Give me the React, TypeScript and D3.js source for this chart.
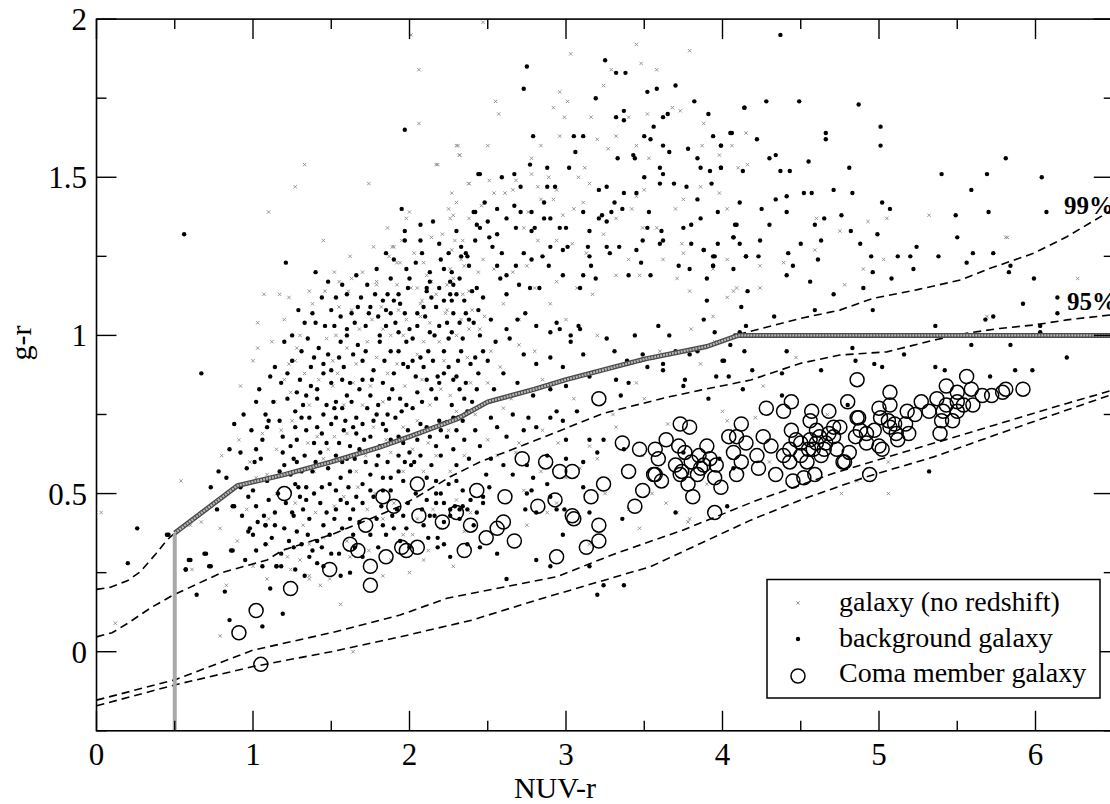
import React from "react";
import * as d3 from "d3";

// ---------- data ----------
const xTicksMajor = [0, 1, 2, 3, 4, 5, 6];
const xTicksMinor = [0.5, 1.5, 2.5, 3.5, 4.5, 5.5, 6.5];
const yTicksMajor = [0, 0.5, 1, 1.5, 2];
const yTicksMinor = [-0.25, 0.25, 0.75, 1.25, 1.75];
const yTickLabels = ["0", "0.5", "1", "1.5", "2"];

const legendLabels = ["galaxy (no redshift)", "background galaxy", "Coma member galaxy"];
const curveLabels = ["99%", "95%"];

// thick grey selection boundary
const selectionLine: [number, number][] = [
  [0.5, -0.25], [0.5, 0.375], [0.9, 0.525], [1.2, 0.56], [1.5, 0.6], [1.8, 0.645], [2.0, 0.68], [2.3, 0.735],
  [2.5, 0.79], [2.8, 0.83], [3.0, 0.86], [3.5, 0.925], [3.9, 0.965], [4.1, 1.0], [6.5, 1.0],
];

const cut99: [number, number][] = [
  [0, 0.197], [0.09, 0.204], [0.2, 0.225], [0.28, 0.253], [0.38, 0.31], [0.45, 0.353], [0.5, 0.375],
  [0.9, 0.52], [1.5, 0.6], [2.0, 0.68], [2.5, 0.785], [3.0, 0.86], [3.5, 0.92], [3.9, 0.965],
  [4.13, 1.007], [4.5, 1.054], [4.75, 1.08], [4.96, 1.117], [5.24, 1.144], [5.52, 1.175], [5.71, 1.212],
  [5.99, 1.26], [6.2, 1.312], [6.5, 1.4],
];

const cut95: [number, number][] = [
  [0, 0.047], [0.1, 0.06], [0.2, 0.09], [0.35, 0.14], [0.49, 0.179], [0.8, 0.25], [1.09, 0.29],
  [1.19, 0.321], [1.5, 0.37], [1.7, 0.41], [1.94, 0.46], [2.05, 0.49], [2.26, 0.553], [2.45, 0.6],
  [2.81, 0.669], [3.24, 0.754], [3.66, 0.806], [3.86, 0.827], [4.18, 0.859], [4.5, 0.912], [4.75, 0.938],
  [5.05, 0.948], [5.18, 0.964], [5.35, 0.985], [5.56, 1.007], [5.77, 1.022], [5.99, 1.033], [6.2, 1.049],
  [6.5, 1.066],
];

const lowerA: [number, number][] = [
  [0, -0.153], [0.5, -0.089], [1.0, 0.005], [1.5, 0.06], [1.94, 0.116], [2.24, 0.169], [2.94, 0.237],
  [3.32, 0.311], [3.75, 0.385], [4.2, 0.475], [4.71, 0.564], [5.13, 0.627], [5.56, 0.69], [5.99, 0.754],
  [6.2, 0.785], [6.5, 0.828],
];

const lowerB: [number, number][] = [
  [0, -0.171], [0.5, -0.105], [1.0, -0.047], [1.5, 0.0], [1.94, 0.047], [2.4, 0.1], [2.81, 0.163],
  [3.54, 0.269], [4.18, 0.416], [4.5, 0.48], [4.92, 0.553], [5.35, 0.616], [5.77, 0.69], [6.2, 0.764],
  [6.5, 0.815],
];

const comaMembers: [number, number][] = [
  [0.91, 0.06], [1.02, 0.13], [1.05, -0.04], [1.24, 0.2], [1.2, 0.5], [1.49, 0.26], [1.62, 0.34], [1.67, 0.32],
  [1.72, 0.4], [1.75, 0.27], [1.75, 0.21], [1.85, 0.3], [1.83, 0.49], [1.9, 0.46], [1.95, 0.33], [1.98, 0.32],
  [2.05, 0.33], [2.05, 0.53], [2.06, 0.43], [2.21, 0.41], [2.3, 0.44], [2.39, 0.4], [2.35, 0.32], [2.43, 0.51],
  [2.49, 0.36], [2.56, 0.39], [2.6, 0.41], [2.61, 0.49], [2.67, 0.35], [2.72, 0.61], [2.82, 0.46], [2.87, 0.6],
  [2.93, 0.48], [2.94, 0.3], [2.96, 0.57], [3.04, 0.57], [3.04, 0.43], [3.05, 0.42], [3.13, 0.33], [3.16, 0.49],
  [3.21, 0.8], [3.21, 0.4], [3.21, 0.35], [3.24, 0.53], [3.36, 0.66], [3.4, 0.57], [3.44, 0.46], [3.47, 0.64],
  [3.49, 0.51], [3.56, 0.56], [3.57, 0.64], [3.59, 0.61], [3.57, 0.56], [3.61, 0.54], [3.64, 0.67], [3.73, 0.72],
  [3.79, 0.71], [3.72, 0.65], [3.76, 0.63], [3.7, 0.59], [3.73, 0.56], [3.74, 0.57], [3.78, 0.53], [3.84, 0.56],
  [3.81, 0.49], [3.9, 0.65], [3.92, 0.61], [3.88, 0.59], [3.96, 0.59], [3.95, 0.55], [3.99, 0.52], [3.95, 0.44],
  [4.04, 0.68], [4.12, 0.72], [4.09, 0.68], [4.07, 0.63], [4.12, 0.6], [4.09, 0.56], [4.15, 0.66], [4.22, 0.62],
  [4.26, 0.68], [4.28, 0.77], [4.39, 0.76], [4.44, 0.79], [4.23, 0.58], [4.34, 0.56], [4.31, 0.65], [4.39, 0.62],
  [4.44, 0.7], [4.43, 0.6], [4.45, 0.54], [4.86, 0.86], [4.57, 0.76], [4.56, 0.73], [4.68, 0.76], [4.8, 0.79],
  [5.07, 0.82], [4.87, 0.74], [5.0, 0.77], [5.07, 0.78], [5.18, 0.76], [5.27, 0.79], [5.37, 0.8], [5.43, 0.84],
  [5.5, 0.82], [5.56, 0.87], [5.59, 0.83], [5.66, 0.81], [5.72, 0.81], [5.81, 0.83], [5.92, 0.83], [4.47, 0.67],
  [4.43, 0.64], [4.5, 0.62], [4.54, 0.6], [4.56, 0.67], [4.6, 0.66], [4.65, 0.64], [4.6, 0.7], [4.71, 0.71],
  [4.71, 0.68], [4.73, 0.64], [4.78, 0.6], [4.81, 0.63], [4.75, 0.71], [4.86, 0.74], [4.88, 0.7], [4.85, 0.68],
  [4.92, 0.69], [4.92, 0.66], [5.0, 0.65], [5.02, 0.64], [4.97, 0.7], [5.01, 0.74], [5.06, 0.73], [5.07, 0.71],
  [5.11, 0.69], [5.12, 0.67], [5.19, 0.69], [5.17, 0.72], [5.1, 0.72], [5.23, 0.75], [5.32, 0.76], [5.4, 0.73],
  [5.39, 0.69], [5.41, 0.76], [5.47, 0.73], [5.5, 0.76], [5.54, 0.78], [5.6, 0.78], [5.5, 0.79], [5.43, 0.78],
  [4.94, 0.56], [4.77, 0.6], [4.59, 0.56], [4.52, 0.55], [5.79, 0.82], [4.62, 0.68], [4.66, 0.66], [4.55, 0.64],
  [4.63, 0.62], [3.8, 0.6], [3.85, 0.62], [3.86, 0.58], [4.68, 0.69], [4.5, 0.66], [4.58, 0.64],
];

const backgroundGalaxies: [number, number][] = [
  [1.21, 1.23], [1.44, 1.12], [1.2, 0.98], [1.95, 1.4], [2.07, 1.35], [1.97, 1.33], [1.97, 1.3], [2.07, 1.3],
  [2.19, 1.29], [2.44, 1.51], [2.41, 1.39], [2.43, 1.35], [2.33, 1.28], [2.36, 1.26], [2.33, 1.25], [2.38, 1.22],
  [2.2, 1.24], [2.04, 1.23], [1.98, 1.21], [1.88, 1.18], [2.22, 1.21], [2.27, 1.2], [2.13, 1.2], [2.32, 1.18],
  [2.28, 1.16], [2.19, 1.15], [2.13, 1.17], [2.11, 1.14], [1.99, 1.15], [1.86, 1.13], [1.93, 1.13], [1.83, 1.11],
  [1.9, 1.11], [1.94, 1.1], [1.85, 1.08], [1.75, 1.09], [1.67, 1.09], [1.63, 1.07], [1.74, 1.07], [1.88, 1.07],
  [1.97, 1.07], [2.05, 1.07], [2.09, 1.09], [2.17, 1.09], [2.22, 1.11], [2.27, 1.11], [2.3, 1.13], [2.35, 1.11],
  [2.4, 1.14], [2.28, 1.07], [2.36, 1.07], [2.41, 1.04], [2.32, 1.04], [2.24, 1.04], [2.19, 1.03], [2.16, 1.0],
  [2.13, 1.01], [2.05, 1.03], [2.02, 0.99], [1.98, 0.98], [1.93, 1.01], [1.85, 1.03], [1.81, 1.0], [1.72, 1.03],
  [1.65, 1.04], [1.6, 1.02], [1.6, 1.0], [1.52, 1.03], [1.46, 1.03], [1.4, 1.04], [1.39, 0.93], [1.45, 0.91],
  [1.56, 0.98], [1.64, 0.94], [1.7, 0.92], [1.81, 0.98], [1.88, 0.95], [1.93, 0.95], [1.96, 0.91], [2.02, 0.92],
  [2.07, 0.93], [2.12, 0.95], [2.15, 0.92], [2.22, 0.95], [2.25, 0.99], [2.27, 1.01], [2.34, 0.99], [2.33, 0.95],
  [2.39, 0.91], [2.42, 0.93], [2.31, 0.92],
  [0.67, 0.88], [1.02, 0.79], [1.08, 0.75], [1.1, 0.73], [0.85, 0.64], [0.92, 0.63], [1.01, 0.6], [0.78, 0.57],
  [0.73, 0.52], [0.46, 0.37], [0.87, 0.46], [0.93, 0.43], [0.98, 0.39], [1.0, 0.37], [1.08, 0.4], [0.69, 0.31],
  [0.86, 0.32], [0.57, 0.26], [0.72, 0.27], [0.6, 0.29], [1.06, 0.27], [1.15, 0.27], [1.18, 0.27], [1.14, 0.4],
  [1.14, 0.44], [1.25, 0.44], [1.32, 0.45], [1.36, 0.42], [1.26, 0.33], [1.31, 0.34], [1.38, 0.32], [1.44, 0.33],
  [1.36, 0.3], [1.41, 0.28], [1.55, 0.31], [1.62, 0.25], [1.27, 0.53], [1.34, 0.52], [1.44, 0.52], [1.49, 0.53],
  [1.53, 0.51], [1.61, 0.52], [1.6, 0.47], [1.53, 0.45], [1.47, 0.44], [1.52, 0.42], [1.45, 0.4], [1.49, 0.37],
  [1.64, 0.37], [1.75, 0.56], [1.79, 0.59], [1.83, 0.55], [1.7, 0.53], [1.75, 0.51], [1.66, 0.49], [1.62, 0.57],
  [1.56, 0.55], [1.31, 0.57], [1.28, 0.6], [1.17, 0.57], [1.09, 0.54], [0.97, 0.49], [1.02, 0.46], [1.92, 0.45],
  [1.79, 0.42], [1.85, 0.37], [1.98, 0.39], [1.94, 0.35], [2.09, 0.4], [2.16, 0.43], [2.18, 0.36], [2.22, 0.34],
  [2.11, 0.48], [2.17, 0.5], [2.22, 0.47], [2.26, 0.45], [2.37, 0.45], [2.34, 0.51], [2.25, 0.53], [2.17, 0.54],
  [2.11, 0.55], [1.97, 0.6], [1.96, 0.54], [1.88, 0.51],
  [1.11, 0.87], [1.22, 0.88], [1.28, 0.82], [1.34, 0.81], [1.41, 0.83], [1.45, 0.88], [1.5, 0.85], [1.47, 0.78],
  [1.53, 0.79], [1.6, 0.81], [1.62, 0.85], [1.7, 0.86], [1.75, 0.81], [1.83, 0.85], [1.94, 0.8], [1.98, 0.78],
  [2.05, 0.82], [2.11, 0.86], [2.17, 0.8], [2.22, 0.88], [2.32, 0.83], [2.4, 0.79], [2.34, 0.73], [2.3, 0.7],
  [2.24, 0.68], [2.17, 0.65], [2.19, 0.73], [2.11, 0.71], [2.05, 0.67], [2.0, 0.63], [1.93, 0.62], [1.88, 0.67],
  [1.81, 0.65], [1.75, 0.68], [1.62, 0.65], [1.64, 0.71], [1.58, 0.7], [1.7, 0.72], [1.86, 0.75], [1.73, 0.77],
  [1.66, 0.74], [1.45, 0.75], [1.34, 0.7], [1.28, 0.67], [1.24, 0.65], [1.19, 0.63], [1.47, 0.66], [1.43, 0.63],
  [1.53, 0.62], [1.6, 0.61], [1.27, 0.76], [1.32, 0.78], [1.22, 0.8], [1.17, 0.73], [1.19, 0.68], [1.09, 0.71],
  [1.06, 0.67], [1.57, 0.86], [1.89, 0.83], [2.28, 0.86], [1.96, 0.66], [1.68, 0.64], [1.83, 0.72], [1.79, 0.75],
  [1.53, 0.74], [1.41, 0.71], [1.31, 0.74], [1.02, 0.64], [1.26, 0.61], [1.29, 0.52], [1.34, 0.48], [1.26, 0.43],
  [1.45, 0.27], [1.7, 0.3], [1.56, 0.24], [1.08, 0.34], [1.0, 0.51], [1.24, 0.56], [1.38, 0.57], [1.88, 0.55],
  [1.62, 0.42], [1.96, 0.43], [1.83, 0.4], [2.26, 0.3], [2.29, 0.46], [2.39, 0.48], [2.3, 0.54], [2.01, 0.59],
  [1.83, 0.51],
  [1.31, 0.95], [1.35, 0.99], [1.42, 0.96], [1.48, 0.94], [1.37, 0.9], [1.5, 0.89], [1.55, 0.93], [1.58, 0.9],
  [1.67, 0.97], [1.72, 0.95], [1.77, 0.89], [1.84, 0.92], [1.9, 0.88], [1.99, 0.9], [2.04, 0.87], [2.09, 0.9],
  [2.18, 0.87], [2.25, 0.9], [2.3, 0.87], [2.36, 0.85], [2.44, 0.88], [2.47, 0.95], [2.45, 1.0], [2.38, 1.05],
  [2.44, 1.08], [2.47, 1.12], [2.52, 1.05], [2.55, 0.98], [2.5, 0.92], [1.25, 1.0], [1.33, 1.04], [1.29, 1.08],
  [1.38, 1.07], [1.5, 1.08], [1.56, 1.06], [1.53, 1.12], [1.6, 1.13], [1.69, 1.12], [1.78, 1.13], [1.8, 1.06],
  [1.91, 1.04], [2.0, 1.02], [2.1, 1.06], [2.14, 1.12], [1.73, 1.16], [1.66, 1.19], [1.79, 1.21], [1.57, 1.16],
  [1.48, 1.17], [1.4, 1.2], [1.9, 1.24], [2.0, 1.18], [2.08, 1.26], [2.25, 1.26], [2.3, 1.33], [2.15, 1.36],
  [1.85, 1.26], [1.27, 0.71], [1.36, 0.74], [1.39, 0.66], [1.44, 0.69], [1.5, 0.72], [1.55, 0.66], [1.57, 0.77],
  [1.63, 0.79], [1.68, 0.83], [1.76, 0.86], [1.8, 0.78], [1.87, 0.8], [1.91, 0.74], [1.95, 0.76], [2.02, 0.77],
  [2.08, 0.79], [2.14, 0.83], [2.19, 0.85], [2.27, 0.78], [2.35, 0.8], [2.43, 0.83], [2.37, 0.76], [2.28, 0.74],
  [2.2, 0.7], [2.13, 0.68], [2.07, 0.72], [1.99, 0.7], [1.93, 0.68], [1.85, 0.7], [1.77, 0.73], [1.71, 0.67],
  [1.66, 0.69], [1.59, 0.73], [1.52, 0.77], [1.41, 0.8], [1.37, 0.84], [1.3, 0.86], [1.18, 0.85], [1.14, 0.9],
  [1.25, 0.92], [1.2, 0.59], [1.33, 0.62], [1.4, 0.6], [1.48, 0.58], [1.57, 0.6], [1.65, 0.61], [1.72, 0.6],
  [1.8, 0.62], [1.86, 0.6], [1.93, 0.57], [2.03, 0.6], [2.07, 0.62], [2.14, 0.59], [2.2, 0.62], [2.28, 0.64],
  [2.35, 0.67], [2.42, 0.7], [2.45, 0.65], [2.38, 0.61], [2.3, 0.59], [1.1, 0.48], [1.16, 0.5], [1.21, 0.47],
  [1.3, 0.49], [1.39, 0.5], [1.43, 0.47], [1.56, 0.48], [1.64, 0.45], [1.7, 0.47], [1.77, 0.49], [1.82, 0.46],
  [1.89, 0.43], [1.99, 0.47], [2.04, 0.5], [2.08, 0.45], [2.13, 0.43], [2.2, 0.5], [2.32, 0.42], [2.41, 0.4],
  [1.07, 0.43], [1.12, 0.36], [1.2, 0.39], [1.28, 0.38], [1.35, 0.37], [1.41, 0.35], [1.57, 0.39], [1.68, 0.41],
  [1.75, 0.37], [1.9, 0.39], [2.0, 0.33], [2.12, 0.36], [1.18, 0.31], [1.23, 0.35], [1.5, 0.31], [1.65, 0.33],
  [1.8, 0.33], [1.02, 0.32], [0.95, 0.29], [0.92, 0.52], [0.83, 0.55], [0.96, 0.58], [1.05, 0.61], [0.99, 0.7],
  [0.94, 0.75], [1.04, 0.83], [1.13, 0.79], [0.88, 0.72],
  [1.97, 1.65], [2.75, 1.85], [2.73, 1.78], [3.25, 1.87], [3.32, 1.83], [3.38, 1.83], [3.19, 1.75], [2.79, 1.63],
  [3.05, 1.63], [3.11, 1.63], [3.52, 1.77], [3.58, 1.78], [3.7, 1.79], [3.82, 1.74], [3.91, 1.7], [4.14, 1.72],
  [4.05, 1.64], [3.94, 1.63], [3.99, 1.6], [3.99, 1.53], [3.92, 1.52], [3.86, 1.53], [3.84, 1.56], [3.78, 1.59],
  [3.66, 1.58], [3.62, 1.6], [3.6, 1.53], [3.62, 1.51], [3.5, 1.5], [3.54, 1.62], [3.5, 1.63], [3.56, 1.66],
  [3.62, 1.69], [3.65, 1.7], [3.32, 1.69], [3.37, 1.68], [3.37, 1.71], [3.43, 1.57], [3.44, 1.56], [3.33, 1.56],
  [3.06, 1.58], [2.88, 1.53], [2.77, 1.54], [2.59, 1.5], [2.67, 1.51], [2.45, 1.51], [2.71, 1.47], [2.88, 1.47],
  [2.93, 1.47], [3.02, 1.53], [3.21, 1.46], [3.26, 1.47], [3.37, 1.45], [3.45, 1.45], [3.6, 1.48], [3.69, 1.48],
  [3.77, 1.47], [3.84, 1.43], [3.93, 1.48], [4.11, 1.42], [3.97, 1.39], [4.08, 1.35], [4.07, 1.31], [4.11, 1.29],
  [4.15, 1.25], [3.94, 1.25], [3.94, 1.22], [3.88, 1.27], [3.79, 1.21], [3.72, 1.22], [3.86, 1.37], [3.8, 1.35],
  [3.75, 1.34], [3.8, 1.29], [3.61, 1.33], [3.62, 1.3], [3.6, 1.29], [3.53, 1.39], [3.52, 1.34], [3.49, 1.3],
  [3.48, 1.23], [3.54, 1.19], [3.4, 1.19], [3.34, 1.28], [3.31, 1.42], [3.36, 1.4], [3.29, 1.39], [3.23, 1.38],
  [3.26, 1.36], [3.28, 1.26], [3.15, 1.25], [3.16, 1.22], [3.19, 1.18], [3.11, 1.19], [2.98, 1.27], [3.11, 1.39],
  [3.15, 1.33], [3.0, 1.34], [2.9, 1.37], [2.86, 1.37], [2.8, 1.34], [2.86, 1.42], [2.68, 1.34], [2.67, 1.41],
  [2.62, 1.37], [2.56, 1.4], [2.5, 1.36], [2.48, 1.42], [2.42, 1.39], [2.51, 1.31], [2.56, 1.22], [2.68, 1.22],
  [2.78, 1.24], [2.89, 1.22], [2.42, 1.3], [2.37, 1.25], [3.45, 1.27], [3.21, 1.37], [3.26, 1.28], [3.09, 1.15],
  [3.01, 1.28], [3.14, 1.28], [2.96, 1.34], [2.78, 1.33], [2.9, 1.28], [2.78, 1.39], [2.71, 1.39], [2.45, 1.34],
  [2.56, 1.32], [2.53, 1.28], [2.59, 1.26], [2.62, 1.19], [2.73, 1.26], [2.77, 1.15], [2.85, 1.25], [2.98, 1.19],
  [2.83, 1.15], [2.7, 1.16], [2.58, 1.18], [2.62, 1.13], [2.26, 1.17], [2.11, 1.15], [2.26, 1.13], [2.43, 1.15],
  [4.37, 1.95], [4.28, 1.74], [4.49, 1.74], [4.14, 1.72], [4.87, 1.73], [4.06, 1.64], [4.22, 1.62], [3.99, 1.6],
  [4.66, 1.64], [4.66, 1.62], [5.01, 1.66], [5.01, 1.6], [4.3, 1.56], [4.34, 1.57], [3.99, 1.53], [4.13, 1.52],
  [4.37, 1.52], [4.43, 1.52], [4.55, 1.55], [4.81, 1.53], [5.81, 1.56], [5.4, 1.51], [5.69, 1.51], [6.04, 1.5],
  [5.59, 1.46], [4.34, 1.43], [4.41, 1.44], [4.52, 1.45], [4.57, 1.45], [4.71, 1.46], [4.83, 1.45],
  [4.25, 1.4], [4.41, 1.39], [4.65, 1.37], [4.59, 1.35], [4.76, 1.38], [4.82, 1.33], [5.02, 1.42], [5.07, 1.4],
  [5.49, 1.38], [5.7, 1.39], [6.07, 1.39], [4.09, 1.35], [4.3, 1.35], [4.07, 1.31], [3.97, 1.29], [4.24, 1.3],
  [4.5, 1.29], [4.63, 1.3], [4.88, 1.29], [4.99, 1.32], [5.24, 1.28], [5.5, 1.31], [3.88, 1.27], [3.95, 1.25],
  [4.15, 1.25], [4.23, 1.25], [4.42, 1.26], [4.61, 1.24], [4.95, 1.25], [5.12, 1.25], [5.2, 1.25], [5.38, 1.25],
  [5.6, 1.26], [5.73, 1.26], [3.94, 1.22], [4.07, 1.21], [4.45, 1.22], [4.96, 1.2], [5.22, 1.21], [5.56, 1.23],
  [5.83, 1.2], [5.84, 1.22], [5.08, 1.18], [4.56, 1.17], [4.41, 1.19], [3.9, 1.18], [4.16, 1.14], [4.9, 1.15],
  [5.99, 1.18], [4.71, 1.13], [3.9, 1.11], [4.12, 1.09], [4.59, 1.08], [4.96, 1.08], [6.14, 1.12], [6.14, 1.07],
  [5.92, 1.1], [5.73, 1.06], [5.68, 1.05], [4.33, 1.06], [3.88, 1.05], [4.15, 1.03], [4.11, 1.01], [5.36, 1.03],
  [6.03, 1.03], [6.03, 1.01], [4.05, 0.97], [4.14, 0.95], [4.41, 0.95], [4.83, 0.96], [5.59, 0.97], [5.84, 0.97],
  [6.2, 0.93], [4.01, 0.92], [4.38, 0.88], [4.63, 0.89], [4.85, 0.92], [4.97, 0.91], [5.02, 0.9], [5.16, 0.94],
  [5.36, 0.9], [5.42, 0.89], [5.71, 0.87], [5.87, 0.89], [5.98, 0.89], [3.96, 0.87], [4.04, 0.87], [4.19, 0.89],
  [4.13, 0.83], [3.91, 0.8], [4.38, 0.81], [4.8, 0.78], [5.32, 0.57],
  [4.08, 1.0], [3.95, 1.01], [3.84, 0.95], [3.79, 0.94], [3.62, 0.89], [3.62, 0.91], [3.49, 0.94], [3.52, 0.9],
  [3.44, 1.0], [3.59, 1.03], [3.66, 1.0], [3.7, 0.95], [4.0, 0.92], [3.75, 0.84], [3.76, 0.86], [3.32, 0.86],
  [3.4, 0.85], [3.35, 0.81], [3.39, 0.92], [3.31, 0.95], [3.26, 0.99], [3.09, 1.02], [3.08, 1.03], [3.03, 1.0],
  [2.96, 1.02], [2.9, 1.01], [2.94, 1.04], [2.81, 1.03], [2.74, 1.07], [2.69, 1.05], [2.62, 1.02], [2.64, 0.99],
  [2.73, 0.94], [2.81, 0.91], [2.9, 0.93], [2.98, 0.9], [3.03, 0.98], [3.11, 0.94], [3.15, 0.87], [3.0, 0.84],
  [2.9, 0.83], [2.79, 0.81], [2.69, 0.85], [2.6, 0.88], [2.54, 0.83], [2.94, 0.76], [3.07, 0.76], [2.98, 0.73],
  [2.9, 0.74], [2.76, 0.74], [2.66, 0.75], [2.52, 0.74], [2.56, 0.71], [2.62, 0.68], [2.73, 0.7], [2.81, 0.71],
  [3.0, 0.67], [3.15, 0.67], [3.2, 0.63], [3.24, 0.67], [3.37, 0.64], [3.11, 0.6], [3.0, 0.61], [2.88, 0.62],
  [2.75, 0.59], [2.66, 0.56], [2.6, 0.59], [2.52, 0.61], [2.79, 0.55], [2.49, 0.56], [2.88, 0.53], [2.78, 0.51],
  [2.51, 0.52], [2.75, 0.5], [2.9, 0.49], [2.94, 0.45], [2.99, 0.45], [3.15, 0.44], [3.11, 0.52], [2.81, 0.44],
  [2.74, 0.45], [2.47, 0.49], [2.47, 0.47], [2.43, 0.44], [2.34, 0.46], [2.32, 0.45], [2.26, 0.43], [2.17, 0.47],
  [2.22, 0.41], [2.18, 0.33], [2.37, 0.34], [2.45, 0.33], [2.56, 0.31], [2.62, 0.23], [2.81, 0.29], [2.9, 0.27],
  [2.98, 0.37], [3.15, 0.27], [3.24, 0.21], [3.2, 0.18], [3.37, 0.21], [3.36, 0.42], [3.7, 0.44], [3.75, 0.63],
  [3.98, 0.61], [4.03, 0.46], [4.07, 0.58],
  [0.26, 0.39], [0.2, 0.28], [0.45, 0.37], [0.77, 0.45], [0.88, 0.46], [0.97, 0.38], [1.03, 0.41], [1.08, 0.4],
  [0.57, 0.26], [0.59, 0.29], [0.64, 0.18], [0.7, 0.31], [0.73, 0.27], [0.87, 0.32], [0.82, 0.19], [0.85, 0.1],
  [1.06, 0.08], [1.11, 0.2], [1.19, 0.12], [1.15, 0.27], [1.27, 0.26], [1.33, 0.24], [0.56, 1.32],
];

const noRedshift: [number, number][] = [
  [1.33, 1.54], [1.27, 1.47], [1.1, 1.39], [1.45, 1.3], [1.74, 1.48], [2.18, 1.54], [2.32, 1.57], [2.38, 1.48],
  [2.27, 1.45], [2.3, 1.42], [2.25, 1.4], [2.28, 1.38], [2.0, 1.39], [1.98, 1.37], [2.21, 1.32], [2.14, 1.31],
  [2.29, 1.3], [2.34, 1.3], [1.89, 1.28], [2.03, 1.26], [1.87, 1.25], [1.92, 1.23], [2.09, 1.23], [2.27, 1.27],
  [1.55, 1.17], [1.63, 1.18], [1.79, 1.16], [1.61, 1.14], [2.01, 1.15], [2.05, 1.15], [2.14, 1.17], [2.24, 1.16],
  [2.38, 1.14], [2.34, 1.13], [2.17, 1.13], [2.08, 1.11], [2.17, 1.09], [2.23, 1.07], [2.33, 1.05], [2.4, 1.08],
  [1.07, 1.13], [1.17, 1.13], [1.23, 1.12], [1.36, 1.14], [1.03, 1.04], [1.55, 1.09], [1.63, 1.08], [1.82, 1.09],
  [1.93, 1.08], [2.07, 1.06], [1.03, 0.96], [1.28, 0.96], [1.23, 0.91], [1.27, 0.92], [1.47, 0.99], [1.53, 1.0],
  [1.6, 0.96], [1.73, 0.98], [1.83, 1.02], [1.96, 1.0], [2.09, 0.98], [2.13, 1.04], [2.19, 0.98], [2.3, 1.0],
  [2.38, 1.02], [1.51, 0.92], [1.66, 0.91], [1.79, 0.93], [1.92, 0.91], [2.05, 0.94], [2.22, 0.92], [2.37, 0.93],
  [3.45, 1.92], [3.79, 1.9], [3.03, 1.89], [3.58, 1.84], [3.29, 1.84], [3.24, 1.79], [3.48, 1.86], [2.55, 1.74],
  [2.96, 1.77], [2.92, 1.72], [3.01, 1.74], [2.57, 1.7], [3.16, 1.69], [2.99, 1.69], [3.4, 1.69], [2.06, 1.67],
  [3.52, 1.7], [3.68, 1.72], [3.73, 1.71], [3.88, 1.67], [4.15, 1.64], [2.31, 1.6], [2.5, 1.6], [2.32, 1.57],
  [2.96, 1.63], [2.84, 1.6], [3.2, 1.62], [3.27, 1.59], [3.32, 1.63], [3.45, 1.6], [3.53, 1.56], [3.87, 1.6],
  [3.98, 1.57], [4.06, 1.6], [4.1, 1.53], [4.16, 1.54], [2.17, 1.54], [2.38, 1.48], [2.51, 1.49], [2.54, 1.45],
  [2.61, 1.45], [2.66, 1.46], [2.68, 1.49], [2.78, 1.56], [2.78, 1.51], [2.82, 1.47], [2.89, 1.5], [2.94, 1.46],
  [3.08, 1.5], [3.12, 1.53], [3.15, 1.48], [3.11, 1.42], [3.05, 1.4], [2.92, 1.43], [2.98, 1.38], [2.84, 1.43],
  [2.76, 1.39], [2.73, 1.34], [2.82, 1.3], [2.94, 1.3], [3.04, 1.29], [3.13, 1.26], [3.24, 1.32], [3.32, 1.37],
  [3.42, 1.4], [3.45, 1.44], [3.5, 1.46], [3.49, 1.34], [3.58, 1.34], [3.7, 1.4], [3.75, 1.43], [3.86, 1.47],
  [3.98, 1.45], [4.03, 1.4], [3.74, 1.29], [3.75, 1.26], [3.62, 1.24], [3.4, 1.24], [3.47, 1.19], [3.71, 1.18],
  [3.79, 1.14], [3.94, 1.21], [4.03, 1.24], [4.09, 1.15], [2.46, 1.41], [2.38, 1.37], [2.26, 1.37], [1.9, 1.28],
  [1.94, 1.23], [1.79, 1.17], [1.92, 1.16], [2.11, 1.19], [2.26, 1.21], [2.33, 1.24], [2.47, 1.24], [2.54, 1.21],
  [2.66, 1.2], [2.75, 1.22], [2.8, 1.15], [2.94, 1.17], [3.07, 1.15], [3.17, 1.13], [3.32, 1.19], [2.06, 1.84],
  [2.01, 1.95], [2.3, 1.6], [2.47, 1.99],
  [0.54, 0.54], [0.67, 0.41], [0.79, 0.39], [0.91, 0.67], [1.02, 0.55], [0.96, 0.45], [1.06, 0.69], [1.09, 0.56],
  [1.14, 0.79], [1.18, 0.7], [1.15, 0.64], [1.24, 0.82], [1.3, 0.86], [1.36, 0.78], [1.41, 0.68], [1.45, 0.61],
  [1.39, 0.57], [1.51, 0.84], [1.58, 0.78], [1.52, 0.68], [1.7, 0.78], [1.77, 0.71], [1.83, 0.79], [1.88, 0.63],
  [1.96, 0.71], [2.05, 0.73], [2.13, 0.78], [2.26, 0.81], [2.39, 0.85], [2.17, 0.62], [2.26, 0.57], [2.09, 0.57],
  [1.96, 0.57], [1.66, 0.57], [1.58, 0.49], [1.73, 0.45], [1.83, 0.42], [1.96, 0.37], [2.15, 0.45], [2.3, 0.48],
  [2.39, 0.44], [1.45, 0.36], [1.36, 0.34], [1.62, 0.3], [1.24, 0.26], [1.09, 0.23], [1.49, 0.23], [1.36, 0.24],
  [2.02, 0.37], [2.28, 0.27], [2.09, 0.29], [1.83, 0.24], [2.0, 0.25], [0.83, 0.21], [0.03, 0.44], [0.12, 0.09],
  [0.79, 0.05], [0.61, 0.26], [1.0, 0.27], [1.09, 0.34], [1.56, 0.15], [1.64, 0.0], [1.36, 0.23], [1.43, 0.21],
  [1.3, 0.29], [3.32, 0.71], [3.49, 0.62], [3.78, 0.41], [3.71, 0.44], [4.03, 0.73], [4.21, 0.74], [3.86, 0.91],
  [3.15, 0.65], [2.84, 0.57], [2.73, 0.51], [3.09, 0.58], [3.2, 0.61], [2.88, 0.44], [2.94, 0.47], [2.75, 0.4],
  [3.79, 0.42], [3.64, 0.47], [3.9, 0.53], [3.47, 0.39], [3.15, 0.34], [4.3, 0.6], [4.47, 0.93], [4.76, 0.5],
  [5.06, 0.6], [4.86, 0.54], [4.67, 0.75], [4.6, 1.37], [5.05, 1.37], [5.32, 1.38], [5.81, 1.31], [6.27, 1.18],
  [4.93, 1.36], [4.59, 1.27], [4.39, 1.23], [4.75, 1.33], [4.78, 1.16], [4.9, 1.21], [5.03, 1.24], [4.24, 1.15],
  [3.94, 1.06], [4.03, 1.12], [4.07, 1.14], [4.24, 1.22], [5.69, 1.06], [5.82, 1.31], [4.0, 0.76], [4.26, 0.84],
  [5.06, 0.5], [2.7, 0.97], [2.85, 0.86], [3.05, 0.8], [2.6, 0.77], [2.5, 0.67], [2.68, 0.63], [2.95, 0.66],
  [3.3, 0.75], [3.5, 0.8], [3.65, 0.72], [2.58, 0.9], [2.45, 1.02],
  [1.2, 1.05], [1.3, 1.0], [1.38, 1.1], [1.46, 1.14], [1.52, 1.2], [1.62, 1.25], [1.7, 1.2], [1.77, 1.28],
  [1.86, 1.34], [1.95, 1.3], [1.68, 1.02], [1.76, 1.05], [1.88, 1.0], [1.98, 1.05], [2.07, 1.1], [2.24, 1.08],
  [2.28, 1.18], [2.35, 1.22], [2.44, 1.2], [2.48, 1.06], [2.52, 0.95], [2.5, 0.85], [1.2, 0.86], [1.33, 0.88],
  [1.42, 0.86], [1.54, 0.88], [1.64, 0.85], [1.75, 0.84], [1.86, 0.88], [1.97, 0.84], [2.08, 0.86], [2.2, 0.83],
  [2.3, 0.76], [2.42, 0.75], [1.25, 0.73], [1.35, 0.66], [1.48, 0.64], [1.6, 0.69], [1.72, 0.62], [1.85, 0.67],
  [2.02, 0.64], [2.12, 0.66], [2.25, 0.7], [2.35, 0.62], [1.15, 0.5], [1.27, 0.47], [1.4, 0.44], [1.52, 0.46],
  [1.67, 0.52], [1.78, 0.5], [1.9, 0.47], [2.05, 0.42], [2.2, 0.39], [2.35, 0.38], [1.1, 0.42], [1.22, 0.3],
  [1.32, 0.4], [1.6, 0.35], [1.74, 0.32], [1.88, 0.29], [2.12, 0.32], [0.9, 0.35], [0.98, 0.6], [0.84, 0.5],
  [0.7, 0.45], [0.6, 0.4], [0.92, 0.84], [1.0, 0.92], [1.12, 0.98], [0.8, 0.62], [2.6, 1.1], [2.7, 1.05],
  [2.65, 0.8], [2.8, 0.95], [2.9, 1.1], [3.0, 1.05], [3.2, 1.0], [3.3, 0.9], [3.45, 0.85], [3.6, 0.95],
  [3.8, 1.02], [3.95, 0.98], [2.56, 0.62], [2.7, 0.66], [2.85, 0.7], [3.0, 0.55], [3.25, 0.5], [3.4, 0.45],
  [3.55, 0.5],
];

// ---------- geometry ----------
const W = 1110;
const H = 804;
const x = d3.scaleLinear().domain([0, 6.5]).range([96.5, 1113.75]);
const y = d3.scaleLinear().domain([-0.25, 2]).range([730.8, 19.1]);
const FONT = "'Liberation Serif', 'Times New Roman', serif";

const line = d3
  .line<[number, number]>()
  .x((d) => x(d[0]))
  .y((d) => y(d[1]));

const xSym = d3.symbol().type(d3.symbolX).size(9)() as string;

export default function App() {
  const [x0, x1] = x.range();
  const [yb, yt] = y.range();
  const selVertical = selectionLine.slice(0, 2);
  const selRest = selectionLine.slice(1);
  return (
    <svg
      width={W}
      height={H}
      viewBox={`0 0 ${W} ${H}`}
      style={{ position: "absolute", left: 0, top: 0, background: "#fff" }}
    >
      <defs>
        <clipPath id="plot">
          <rect x={x0} y={yt} width={x1 - x0} height={yb - yt} />
        </clipPath>
      </defs>
      <rect x={0} y={0} width={W} height={H} fill="#fff" />

      <g clipPath="url(#plot)">
        {noRedshift.map((d, i) => (
          <path
            key={"n" + i}
            d={xSym}
            transform={`translate(${x(d[0])},${y(d[1])})`}
            fill="none"
            stroke="#8c8c8c"
            strokeWidth={0.9}
          />
        ))}
        {backgroundGalaxies.map((d, i) => (
          <circle key={"b" + i} cx={x(d[0])} cy={y(d[1])} r={2.2} fill="#000" />
        ))}
        {comaMembers.map((d, i) => (
          <circle
            key={"c" + i}
            cx={x(d[0])}
            cy={y(d[1])}
            r={7}
            fill="none"
            stroke="#000"
            strokeWidth={1.5}
          />
        ))}
        {[cut99, cut95, lowerA, lowerB].map((ln, i) => (
          <path
            key={"l" + i}
            d={line(ln) as string}
            fill="none"
            stroke="#000"
            strokeWidth={1.6}
            strokeDasharray="8,5"
          />
        ))}
        <path d={line(selVertical) as string} fill="none" stroke="#a9a9a9" strokeWidth={4} />
        <path d={line(selRest) as string} fill="none" stroke="#4a4a4a" strokeWidth={5} strokeLinejoin="round" />
        <path
          d={line(selRest) as string}
          fill="none"
          stroke="#b8b8b8"
          strokeWidth={2.4}
          strokeDasharray="2,1"
          strokeLinejoin="round"
        />
      </g>

      {/* frame */}
      <rect x={x0} y={yt} width={x1 - x0} height={yb - yt} fill="none" stroke="#000" strokeWidth={1.6} />

      {/* ticks */}
      {xTicksMajor.map((t) => (
        <g key={"xt" + t}>
          <line x1={x(t)} x2={x(t)} y1={yb} y2={yb - 20} stroke="#000" strokeWidth={1.4} />
          <line x1={x(t)} x2={x(t)} y1={yt} y2={yt + 20} stroke="#000" strokeWidth={1.4} />
          <text x={x(t)} y={765} fontFamily={FONT} fontSize={31} textAnchor="middle" fill="#000">
            {String(t)}
          </text>
        </g>
      ))}
      {xTicksMinor.map((t) => (
        <g key={"xm" + t}>
          <line x1={x(t)} x2={x(t)} y1={yb} y2={yb - 10} stroke="#000" strokeWidth={1.4} />
          <line x1={x(t)} x2={x(t)} y1={yt} y2={yt + 10} stroke="#000" strokeWidth={1.4} />
        </g>
      ))}
      {yTicksMajor.map((t, i) => (
        <g key={"yt" + t}>
          <line x1={x0} x2={x0 + 20} y1={y(t)} y2={y(t)} stroke="#000" strokeWidth={1.4} />
          <line x1={x1} x2={x1 - 20} y1={y(t)} y2={y(t)} stroke="#000" strokeWidth={1.4} />
          <text x={87} y={y(t) + 11} fontFamily={FONT} fontSize={31} textAnchor="end" fill="#000">
            {yTickLabels[i]}
          </text>
        </g>
      ))}
      {yTicksMinor.map((t) => (
        <g key={"ym" + t}>
          <line x1={x0} x2={x0 + 10} y1={y(t)} y2={y(t)} stroke="#000" strokeWidth={1.4} />
          <line x1={x1} x2={x1 - 10} y1={y(t)} y2={y(t)} stroke="#000" strokeWidth={1.4} />
        </g>
      ))}

      {/* axis titles */}
      <text x={555} y={798} fontFamily={FONT} fontSize={30} textAnchor="middle" fill="#000">
        NUV-r
      </text>
      <text
        transform="translate(31,343) rotate(-90)"
        fontFamily={FONT}
        fontSize={30}
        textAnchor="middle"
        fill="#000"
      >
        g-r
      </text>

      {/* curve labels (cut off at the right edge as in the source) */}
      <text x={1064} y={214} fontFamily={FONT} fontSize={25} fontWeight="bold" fill="#000">
        {curveLabels[0]}
      </text>
      <text x={1067} y={310} fontFamily={FONT} fontSize={25} fontWeight="bold" fill="#000">
        {curveLabels[1]}
      </text>

      {/* legend */}
      <g>
        <rect x={767} y={579.5} width={333} height={118.5} fill="#fff" stroke="#000" strokeWidth={1.5} />
        <path d={xSym} transform="translate(798,603)" fill="none" stroke="#8c8c8c" strokeWidth={0.9} />
        <circle cx={798} cy={639} r={2.2} fill="#000" />
        <circle cx={798} cy={676} r={7} fill="none" stroke="#000" strokeWidth={1.5} />
        {legendLabels.map((lab, i) => (
          <text key={lab} x={839} y={611 + i * 35.5} fontFamily={FONT} fontSize={28} fill="#000">
            {lab}
          </text>
        ))}
      </g>
    </svg>
  );
}
